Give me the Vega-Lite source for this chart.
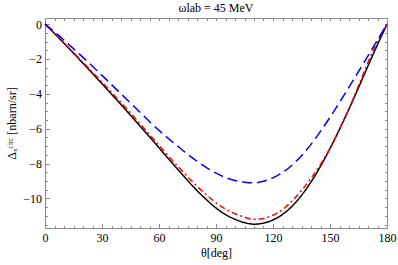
{
  "$schema": "https://vega.github.io/schema/vega-lite/v6.json",
  "autosize": "none",
  "width": 342,
  "height": 210,
  "padding": {"left": 45, "top": 18, "right": 11, "bottom": 37},
  "background": "white",
  "config": {
    "view": {"stroke": "#8a8a8a", "strokeWidth": 1},
    "font": "Liberation Serif",
    "axis": {"grid": false, "domain": false, "tickColor": "#8a8a8a", "labelFont": "Liberation Serif", "titleFont": "Liberation Serif", "labelColor": "black", "titleColor": "black", "labelFontSize": 12, "titleFontSize": 12, "titleFontWeight": "normal", "labelFlush": false}
  },
  "title": {"text": "ωlab = 45 MeV", "font": "Liberation Serif", "fontSize": 12, "fontWeight": "normal", "offset": 3, "anchor": "middle", "color": "black"},
  "data": {"values": [
    {"t":0,"v":0,"s":"black"},{"t":5,"v":-0.54,"s":"black"},{"t":10,"v":-1.1,"s":"black"},{"t":15,"v":-1.67,"s":"black"},{"t":20,"v":-2.25,"s":"black"},{"t":25,"v":-2.83,"s":"black"},{"t":30,"v":-3.42,"s":"black"},{"t":35,"v":-4.02,"s":"black"},{"t":40,"v":-4.62,"s":"black"},{"t":45,"v":-5.23,"s":"black"},{"t":50,"v":-5.85,"s":"black"},{"t":55,"v":-6.47,"s":"black"},{"t":60,"v":-7.1,"s":"black"},{"t":65,"v":-7.73,"s":"black"},{"t":70,"v":-8.35,"s":"black"},{"t":75,"v":-8.96,"s":"black"},{"t":80,"v":-9.55,"s":"black"},{"t":85,"v":-10.08,"s":"black"},{"t":90,"v":-10.55,"s":"black"},{"t":95,"v":-10.93,"s":"black"},{"t":100,"v":-11.2,"s":"black"},{"t":105,"v":-11.39,"s":"black"},{"t":110,"v":-11.48,"s":"black"},{"t":115,"v":-11.42,"s":"black"},{"t":120,"v":-11.24,"s":"black"},{"t":125,"v":-10.92,"s":"black"},{"t":130,"v":-10.45,"s":"black"},{"t":135,"v":-9.83,"s":"black"},{"t":140,"v":-9.06,"s":"black"},{"t":145,"v":-8.16,"s":"black"},{"t":150,"v":-7.14,"s":"black"},{"t":155,"v":-6.04,"s":"black"},{"t":160,"v":-4.87,"s":"black"},{"t":165,"v":-3.65,"s":"black"},{"t":170,"v":-2.4,"s":"black"},{"t":175,"v":-1.18,"s":"black"},{"t":180,"v":0,"s":"black"},
    {"t":0,"v":0,"s":"red"},{"t":5,"v":-0.53,"s":"red"},{"t":10,"v":-1.07,"s":"red"},{"t":15,"v":-1.63,"s":"red"},{"t":20,"v":-2.19,"s":"red"},{"t":25,"v":-2.76,"s":"red"},{"t":30,"v":-3.33,"s":"red"},{"t":35,"v":-3.91,"s":"red"},{"t":40,"v":-4.5,"s":"red"},{"t":45,"v":-5.1,"s":"red"},{"t":50,"v":-5.71,"s":"red"},{"t":55,"v":-6.33,"s":"red"},{"t":60,"v":-6.95,"s":"red"},{"t":65,"v":-7.57,"s":"red"},{"t":70,"v":-8.17,"s":"red"},{"t":75,"v":-8.75,"s":"red"},{"t":80,"v":-9.3,"s":"red"},{"t":85,"v":-9.8,"s":"red"},{"t":90,"v":-10.25,"s":"red"},{"t":95,"v":-10.62,"s":"red"},{"t":100,"v":-10.88,"s":"red"},{"t":105,"v":-11.08,"s":"red"},{"t":110,"v":-11.2,"s":"red"},{"t":115,"v":-11.15,"s":"red"},{"t":120,"v":-10.97,"s":"red"},{"t":125,"v":-10.65,"s":"red"},{"t":130,"v":-10.15,"s":"red"},{"t":135,"v":-9.55,"s":"red"},{"t":140,"v":-8.85,"s":"red"},{"t":145,"v":-8.05,"s":"red"},{"t":150,"v":-7.12,"s":"red"},{"t":155,"v":-6.02,"s":"red"},{"t":160,"v":-4.85,"s":"red"},{"t":165,"v":-3.55,"s":"red"},{"t":170,"v":-2.2,"s":"red"},{"t":175,"v":-1.0,"s":"red"},{"t":180,"v":0,"s":"red"},
    {"t":0,"v":0,"s":"blue"},{"t":5,"v":-0.45,"s":"blue"},{"t":10,"v":-0.92,"s":"blue"},{"t":15,"v":-1.41,"s":"blue"},{"t":20,"v":-1.91,"s":"blue"},{"t":25,"v":-2.42,"s":"blue"},{"t":30,"v":-2.94,"s":"blue"},{"t":35,"v":-3.47,"s":"blue"},{"t":40,"v":-4.0,"s":"blue"},{"t":45,"v":-4.53,"s":"blue"},{"t":50,"v":-5.06,"s":"blue"},{"t":55,"v":-5.59,"s":"blue"},{"t":60,"v":-6.1,"s":"blue"},{"t":65,"v":-6.57,"s":"blue"},{"t":70,"v":-7.02,"s":"blue"},{"t":75,"v":-7.46,"s":"blue"},{"t":80,"v":-7.87,"s":"blue"},{"t":85,"v":-8.24,"s":"blue"},{"t":90,"v":-8.55,"s":"blue"},{"t":95,"v":-8.8,"s":"blue"},{"t":100,"v":-8.97,"s":"blue"},{"t":105,"v":-9.07,"s":"blue"},{"t":110,"v":-9.11,"s":"blue"},{"t":115,"v":-9.02,"s":"blue"},{"t":120,"v":-8.82,"s":"blue"},{"t":125,"v":-8.52,"s":"blue"},{"t":130,"v":-8.1,"s":"blue"},{"t":135,"v":-7.55,"s":"blue"},{"t":140,"v":-6.9,"s":"blue"},{"t":145,"v":-6.15,"s":"blue"},{"t":150,"v":-5.35,"s":"blue"},{"t":155,"v":-4.5,"s":"blue"},{"t":160,"v":-3.62,"s":"blue"},{"t":165,"v":-2.72,"s":"blue"},{"t":170,"v":-1.82,"s":"blue"},{"t":175,"v":-0.91,"s":"blue"},{"t":180,"v":0,"s":"blue"}
  ]},
  "resolve": {"axis": {"x": "independent", "y": "independent"}},
  "layer": [
    {
      "mark": {"type": "line", "opacity": 0},
      "encoding": {
        "x": {"field": "t", "type": "quantitative", "scale": {"domain": [0, 180], "nice": false},
              "axis": {"orient": "bottom", "values": [0,5,10,15,20,25,35,40,45,50,55,65,70,75,80,85,95,100,105,110,115,125,130,135,140,145,155,160,165,170,175,180], "labels": false, "tickSize": -2.5, "title": null}},
        "y": {"field": "v", "type": "quantitative", "scale": {"domain": [-11.7, 0.35], "nice": false, "zero": false},
              "axis": {"orient": "left", "values": [-11.5,-11,-10.5,-9.5,-9,-8.5,-7.5,-7,-6.5,-5.5,-5,-4.5,-3.5,-3,-2.5,-1.5,-1,-0.5], "labels": false, "tickSize": -2.5, "title": null}},
        "detail": {"field": "s"}
      }
    },
    {
      "mark": {"type": "line", "opacity": 0},
      "encoding": {
        "x": {"field": "t", "type": "quantitative", "scale": {"domain": [0, 180], "nice": false},
              "axis": {"orient": "top", "values": [5,10,15,20,25,30,35,40,45,50,55,60,65,70,75,80,85,90,95,100,105,110,115,120,125,130,135,140,145,150,155,160,165,170,175], "labels": false, "tickSize": -2.5, "title": null}},
        "y": {"field": "v", "type": "quantitative", "scale": {"domain": [-11.7, 0.35], "nice": false, "zero": false},
              "axis": {"orient": "right", "values": [-11.5,-11,-10.5,-10,-9.5,-9,-8.5,-8,-7.5,-7,-6.5,-6,-5.5,-5,-4.5,-4,-3.5,-3,-2.5,-2,-1.5,-1,-0.5,0], "labels": false, "tickSize": -2.5, "title": null}},
        "detail": {"field": "s"}
      }
    },
    {
      "mark": {"type": "line", "strokeWidth": 1.5, "interpolate": "monotone"},
      "encoding": {
        "x": {"field": "t", "type": "quantitative", "scale": {"domain": [0, 180], "nice": false},
              "axis": {"orient": "bottom", "values": [0,30,60,90,120,150,180], "tickSize": -4.5, "labelPadding": 9, "title": "θ[deg]", "titlePadding": 4}},
        "y": {"field": "v", "type": "quantitative", "scale": {"domain": [-11.7, 0.35], "nice": false, "zero": false},
              "axis": {"orient": "left", "values": [-10,-8,-6,-4,-2,0], "tickSize": -4.5, "labelPadding": 8, "title": "Δₓᶜⁱʳᶜ [nbarn/sr]", "titlePadding": 4}},
        "color": {"field": "s", "type": "nominal", "scale": {"domain": ["black","red","blue"], "range": ["#000000","#ff0000","#0000ff"]}, "legend": null},
        "strokeDash": {"field": "s", "type": "nominal", "scale": {"domain": ["black","red","blue"], "range": [[1,0],[6,3,2,3],[10,5]]}, "legend": null},
        "order": {"field": "t", "type": "quantitative"}
      }
    }
  ]
}
